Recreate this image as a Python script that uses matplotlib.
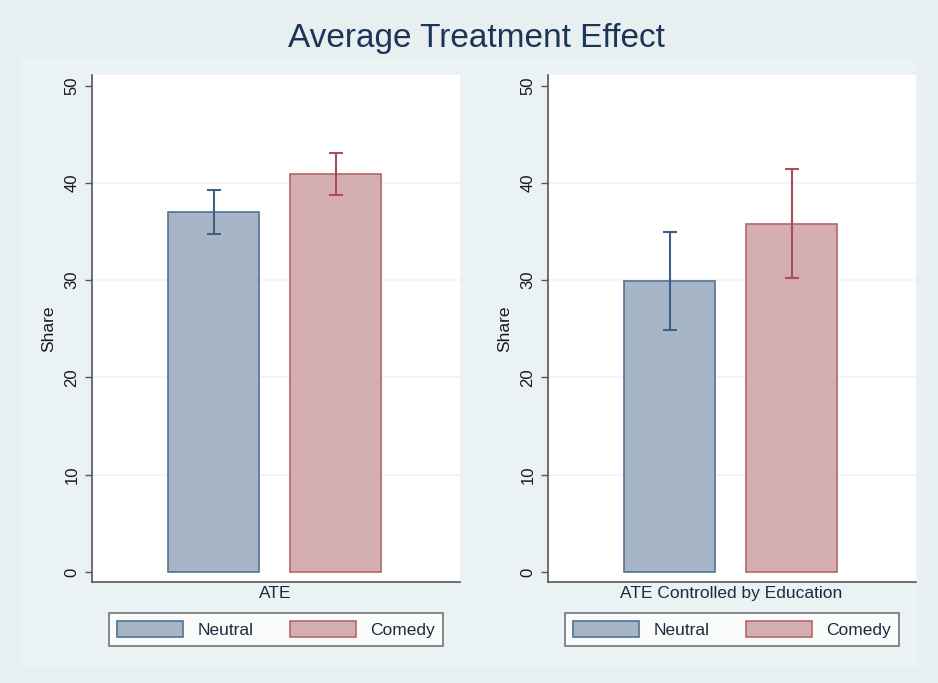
import matplotlib.pyplot as plt
from matplotlib.patches import Rectangle

plt.rcParams['font.family'] = ['Liberation Sans', 'DejaVu Sans']

groups = ['Neutral', 'Comedy']
panels = ['ATE', 'ATE Controlled by Education']
means = [[37.0, 40.9], [29.9, 35.8]]
lower = [[34.8, 38.8], [24.9, 30.2]]
upper = [[39.3, 43.1], [35.0, 41.4]]
yticks = [0, 10, 20, 30, 40, 50]

fills = ['#a6b6c6', '#d4aeb1']
edges = ['#4f7396', '#b8656d']
errc = ['#3d6189', '#a54e58']
bg = '#e8eff1'

fig = plt.figure(figsize=(9.38, 6.83), dpi=100)
fig.patch.set_facecolor(bg)
fig.patches.append(Rectangle((20 / 938, 1 - 668 / 683), 898 / 938, 610 / 683,
                             transform=fig.transFigure, facecolor='#eaf2f3',
                             edgecolor='none', zorder=-1))
fig.text(0.508, 1 - 38 / 683, 'Average Treatment Effect', ha='center', va='center',
         fontsize=24, color='#1c3557')

lefts = [92 / 938, 548 / 938]
for k, name in enumerate(panels):
    ax = fig.add_axes([lefts[k], 1 - 582 / 683, 368 / 938, 507 / 683])
    ax.set_facecolor('white')
    for i, g in enumerate(groups):
        ax.bar(i, means[k][i], width=0.745, color=fills[i], edgecolor=edges[i],
               linewidth=1.2, label=g, zorder=2)
        ax.errorbar(i, means[k][i],
                    yerr=[[means[k][i] - lower[k][i]], [upper[k][i] - means[k][i]]],
                    fmt='none', ecolor=errc[i], elinewidth=1.5, capsize=5,
                    capthick=1.5, zorder=3)
    ax.set_xlim(-1.0, 2.02)
    ax.set_ylim(-1.03, 51.1)
    ax.set_yticks(yticks)
    ax.set_yticklabels([str(t) for t in yticks], rotation=90, va='center',
                       fontsize=12, color='#1a1a1a')
    ax.set_xticks([0.5])
    ax.set_xticklabels([name], fontsize=12.5, color='#1c2a40')
    ax.tick_params(axis='x', length=0, pad=3)
    ax.tick_params(axis='y', length=5, width=1, color='#555555', pad=4)
    ax.set_ylabel('Share', fontsize=12.5, color='#1a1a1a', labelpad=6)
    for t in yticks[1:-1]:
        ax.axhline(t, color='#f0f4f6', linewidth=1.2, zorder=1)
    for s in ['top', 'right']:
        ax.spines[s].set_visible(False)
    for s in ['left', 'bottom']:
        ax.spines[s].set_color('#555555')
        ax.spines[s].set_linewidth(1.2)
    leg = ax.legend(loc='upper center', bbox_to_anchor=(0.5, -0.062), ncol=2,
                    fontsize=12.5, frameon=True, fancybox=False, handlelength=3.8,
                    handleheight=1.0, handletextpad=0.85, columnspacing=2.1,
                    borderpad=0.45, borderaxespad=0)
    leg.get_frame().set_edgecolor('#555555')
    leg.get_frame().set_linewidth(1.2)
    for t in leg.get_texts():
        t.set_color('#1c2a40')

fig.savefig('out.png', dpi=100, facecolor=fig.get_facecolor())
